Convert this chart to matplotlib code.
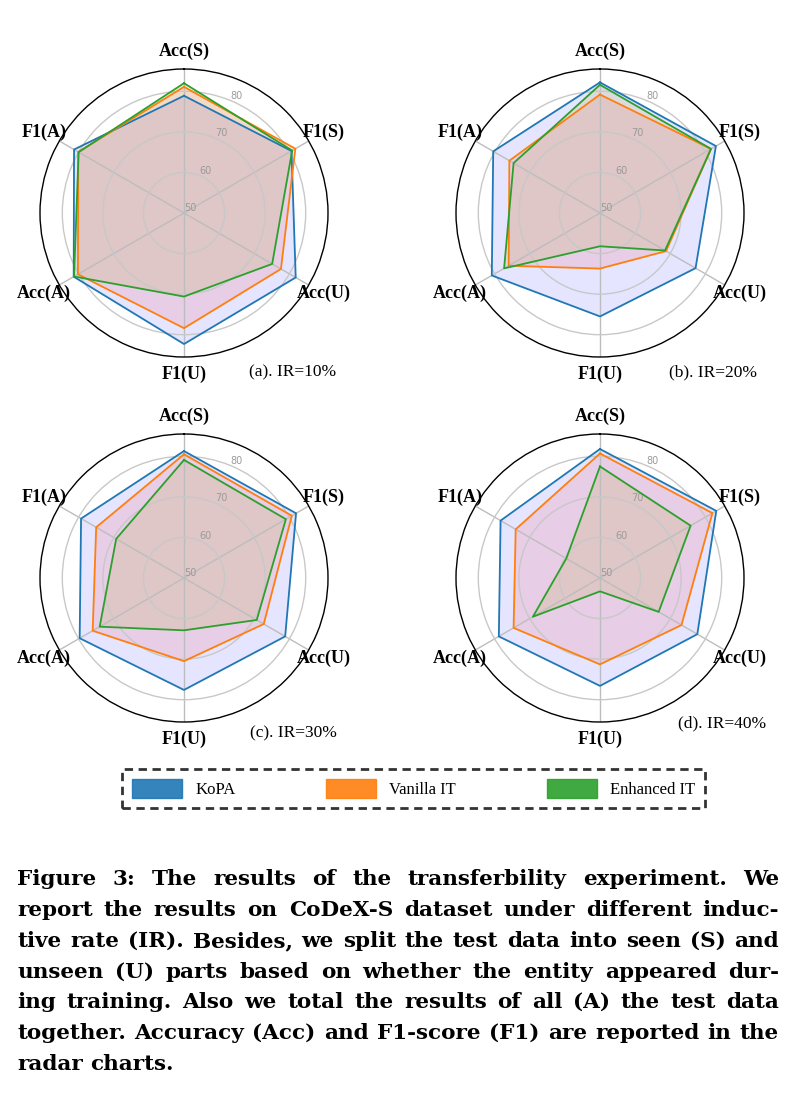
import numpy as np
import matplotlib.pyplot as plt
from matplotlib.patches import Patch

categories = ['Acc(S)', 'F1(S)', 'Acc(U)', 'F1(U)', 'Acc(A)', 'F1(A)']
methods = ['KoPA', 'Vanilla IT', 'Enhanced IT']

# values (order follows categories)
ir10_kopa = [78.9, 80.6, 81.8, 82.3, 81.4, 81.3]
ir10_vanilla = [81.1, 81.7, 77.6, 78.4, 80.2, 80.1]
ir10_enhanced = [82.0, 80.8, 75.1, 70.6, 81.3, 80.0]

ir20_kopa = [82.2, 83.0, 77.2, 75.5, 80.8, 80.4]
ir20_vanilla = [79.2, 81.6, 68.8, 63.7, 76.0, 75.8]
ir20_enhanced = [81.6, 81.6, 68.5, 58.2, 77.3, 74.6]

ir30_kopa = [81.3, 81.9, 78.8, 77.6, 79.7, 79.3]
ir30_vanilla = [80.5, 80.7, 72.7, 70.5, 76.0, 75.0]
ir30_enhanced = [79.1, 79.0, 70.7, 62.9, 74.0, 69.3]

ir40_kopa = [81.8, 83.1, 77.7, 76.6, 78.8, 78.3]
ir40_vanilla = [80.7, 82.0, 73.2, 71.3, 74.6, 74.0]
ir40_enhanced = [77.5, 75.8, 66.7, 53.3, 69.1, 59.6]

panel_titles = ['(a). IR=10%', '(b). IR=20%', '(c). IR=30%', '(d). IR=40%']

caption_lines = [
    'Figure 3: The results of the transferbility experiment. We',
    'report the results on CoDeX-S dataset under different induc-',
    'tive rate (IR). Besides, we split the test data into seen (S) and',
    'unseen (U) parts based on whether the entity appeared dur-',
    'ing training. Also we total the results of all (A) the test data',
    'together. Accuracy (Acc) and F1-score (F1) are reported in the',
    'radar charts.',
]

line_colors = ['#1f77b4', '#ff7f0e', '#2ca02c']
fill_colors = [('#0000ff', 0.10), ('#ff0000', 0.10), ('#b3a01e', 0.15)]

W, H = 805, 1104
fig = plt.figure(figsize=(W / 100, H / 100), dpi=100)

RMIN, RMAX = 50, 85.5
R = 144  # outer radius in px
centers = [(184, 213), (600, 213), (184, 578), (600, 578)]
title_pos = [(293, 372), (713, 372), (293, 733), (722, 723)]
panels = [
    (ir10_kopa, ir10_vanilla, ir10_enhanced),
    (ir20_kopa, ir20_vanilla, ir20_enhanced),
    (ir30_kopa, ir30_vanilla, ir30_enhanced),
    (ir40_kopa, ir40_vanilla, ir40_enhanced),
]

angles = np.arange(len(categories)) * 2 * np.pi / len(categories)
closed = np.append(angles, angles[0])

for (cx, cy), data, title, (tx, ty) in zip(centers, panels, panel_titles, title_pos):
    ax = fig.add_axes([(cx - R) / W, (H - cy - R) / H, 2 * R / W, 2 * R / H],
                      projection='polar')
    ax.set_theta_zero_location('N')
    ax.set_theta_direction(-1)
    ax.set_ylim(RMIN, RMAX)

    for vals, lc, (fc, fa) in zip(data, line_colors, fill_colors):
        v = np.append(vals, vals[0])
        ax.fill(closed, v, color=fc, alpha=fa, lw=0)
        ax.plot(closed, v, color=lc, lw=1.3)

    ax.set_xticks(angles)
    ax.set_xticklabels([])
    ax.set_rgrids([50, 60, 70, 80], labels=['50', '60', '70', '80'],
                  angle=22.5, fontsize=7, color='#9a9a9a')
    ax.xaxis.grid(True, color='#bdbdbd', lw=1)
    ax.yaxis.grid(True, color='#c8c8c8', lw=1)
    ax.spines['polar'].set_color('black')
    ax.spines['polar'].set_linewidth(1)

    r_lab = RMIN + 1.12 * (RMAX - RMIN)
    for a, c in zip(angles, categories):
        ax.text(a, r_lab, c, ha='center', va='center', fontsize=13,
                fontweight='bold', family='Liberation Serif')

    fig.text(tx / W, 1 - ty / H, title, ha='center', va='center',
             fontsize=12.5, family='Liberation Serif')

# legend with dashed frame
handles = [Patch(facecolor=c, edgecolor=c, alpha=0.9) for c in line_colors]
leg = fig.legend(handles, methods, loc='center', ncol=3, mode='expand',
                 bbox_to_anchor=(122 / W, 1 - 815 / H, 583 / W, 53 / H),
                 frameon=True, fancybox=False, edgecolor='black',
                 handlelength=3.0, handleheight=1.4, handletextpad=0.8,
                 borderaxespad=0, borderpad=0.6,
                 prop={'family': 'Liberation Serif', 'size': 12})
leg.get_frame().set_linestyle((0, (3, 2)))
leg.get_frame().set_linewidth(2)

# justified caption
renderer = fig.canvas.get_renderer()
left_px, right_px = 17, 779
baselines = [885, 916, 947, 978, 1008, 1039, 1070]
cap_family = 'DejaVu Serif'

# size the caption font so the longest line just fits the text width
probe = fig.text(0, 0, max(caption_lines[:-1], key=len), fontsize=10,
                 fontweight='bold', family=cap_family)
widest = max(
    (probe.set_text(l), probe.get_window_extent(renderer).width)[1]
    for l in caption_lines[:-1])
probe.remove()
cap_size = min(16.5, 10 * (right_px - left_px) / widest * 0.99)
cap_font = dict(fontsize=cap_size, fontweight='bold', family=cap_family)

p1 = fig.text(0, 0, 'a a', **cap_font)
p2 = fig.text(0, 0, 'aa', **cap_font)
sw = p1.get_window_extent(renderer).width - p2.get_window_extent(renderer).width
p1.remove()
p2.remove()

for i, line in enumerate(caption_lines):
    y = 1 - baselines[i] / H
    words = line.split(' ')
    txts = [fig.text(0, y, w, va='baseline', ha='left', **cap_font) for w in words]
    widths = [t.get_window_extent(renderer).width for t in txts]
    if i == len(caption_lines) - 1:
        gap = sw
    else:
        gap = (right_px - left_px - sum(widths)) / (len(words) - 1)
    x = left_px
    for t, w in zip(txts, widths):
        t.set_x(x / W)
        x += w + gap

fig.savefig('out.png', dpi=100)
plt.close(fig)
